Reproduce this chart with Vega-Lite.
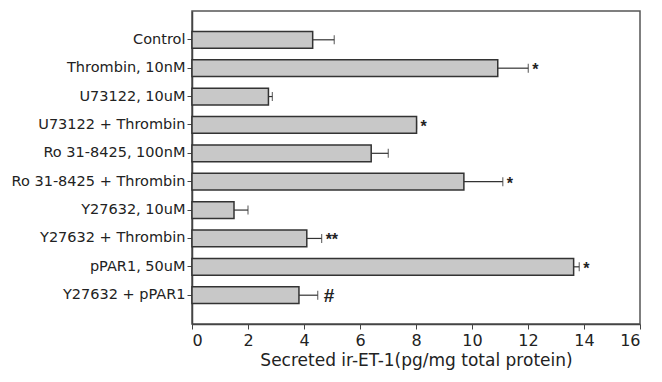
{
  "$schema": "https://vega.github.io/schema/vega-lite/v6.json",
  "width": 448,
  "height": 313,
  "autosize": "none",
  "padding": {"left": 192, "top": 11, "right": 22, "bottom": 58},
  "background": "white",
  "config": {
    "view": {"stroke": "#555555", "strokeWidth": 1.5},
    "font": "DejaVu Sans"
  },
  "data": {
    "values": [
      {"group": "Control", "mean": 4.31, "err": 5.08, "sig": ""},
      {"group": "Thrombin, 10nM", "mean": 10.92, "err": 12.01, "sig": "*"},
      {"group": "U73122, 10uM", "mean": 2.73, "err": 2.87, "sig": ""},
      {"group": "U73122 + Thrombin", "mean": 8.02, "err": 8.02, "sig": "*"},
      {"group": "Ro 31-8425, 100nM", "mean": 6.4, "err": 7.01, "sig": ""},
      {"group": "Ro 31-8425 + Thrombin", "mean": 9.71, "err": 11.1, "sig": "*"},
      {"group": "Y27632, 10uM", "mean": 1.5, "err": 2.0, "sig": ""},
      {"group": "Y27632 + Thrombin", "mean": 4.1, "err": 4.63, "sig": "**"},
      {"group": "pPAR1, 50uM", "mean": 13.63, "err": 13.83, "sig": "*"},
      {"group": "Y27632 + pPAR1", "mean": 3.82, "err": 4.49, "sig": "#"}
    ]
  },
  "encoding": {
    "y": {
      "field": "group",
      "type": "nominal",
      "sort": null,
      "scale": {"paddingInner": 0.41, "paddingOuter": 0.72},
      "axis": {
        "title": null,
        "labelFont": "DejaVu Sans",
        "labelFontSize": 14.5,
        "labelColor": "#222222",
        "tickSize": 5,
        "tickColor": "#444444",
        "labelPadding": 2,
        "domainColor": "#444444",
        "domainWidth": 1.5
      }
    }
  },
  "layer": [
    {
      "mark": {"type": "rule", "color": "#333333", "strokeWidth": 1.2},
      "encoding": {
        "x": {"field": "mean", "type": "quantitative"},
        "x2": {"field": "err"}
      }
    },
    {
      "mark": {"type": "tick", "orient": "vertical", "color": "#333333", "thickness": 1.2, "size": 9},
      "encoding": {
        "x": {"field": "err", "type": "quantitative"}
      }
    },
    {
      "mark": {"type": "bar", "fill": "#c8c8c8", "stroke": "#333333", "strokeWidth": 1.5},
      "encoding": {
        "x": {
          "field": "mean",
          "type": "quantitative",
          "scale": {"domain": [0, 16], "nice": false},
          "axis": {
            "title": "Secreted ir-ET-1(pg/mg total protein)",
            "titleFont": "DejaVu Sans",
            "titleFontSize": 17,
            "titleFontWeight": "normal",
            "titleColor": "#222222",
            "titlePadding": 4,
            "values": [0, 2, 4, 6, 8, 10, 12, 14, 16],
            "labelFont": "DejaVu Sans",
            "labelFontSize": 16,
            "labelColor": "#222222",
            "labelPadding": 3,
            "tickSize": 5,
            "tickColor": "#444444",
            "domainColor": "#444444",
            "domainWidth": 1.5,
            "grid": false
          }
        }
      }
    },
    {
      "transform": [{"filter": "datum.sig != '#'"}],
      "mark": {"type": "text", "align": "left", "baseline": "middle", "dx": 4, "dy": 2, "font": "Liberation Sans", "fontSize": 16, "fontWeight": "bold", "color": "#222222"},
      "encoding": {
        "x": {"field": "err", "type": "quantitative"},
        "text": {"field": "sig"}
      }
    },
    {
      "transform": [{"filter": "datum.sig == '#'"}],
      "mark": {"type": "text", "align": "left", "baseline": "middle", "dx": 6, "dy": 1, "font": "Liberation Sans", "fontSize": 19, "fontWeight": "bold", "color": "#222222"},
      "encoding": {
        "x": {"field": "err", "type": "quantitative"},
        "text": {"field": "sig"}
      }
    }
  ]
}
